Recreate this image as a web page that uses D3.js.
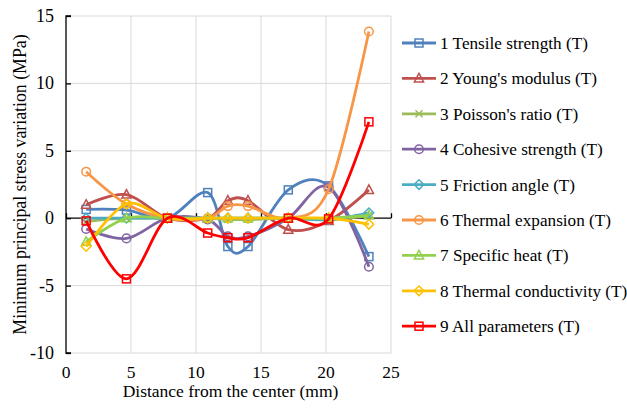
<!DOCTYPE html>
<html>
<head>
<meta charset="utf-8">
<script src="https://cdn.jsdelivr.net/npm/d3@7"></script>
</head>
<body style="margin:0">
<div id="main"></div>
<script>
const width = 627;
const height = 410;

// distance from the center (mm)
const distances = [1.55, 4.65, 7.8, 10.9, 12.45, 14.0, 17.1, 20.2, 23.3];

const names = [
  '1 Tensile strength (T)',
  "2 Young's modulus (T)",
  "3 Poisson's ratio (T)",
  '4 Cohesive strength (T)',
  '5 Friction angle (T)',
  '6 Thermal expansion (T)',
  '7 Specific heat (T)',
  '8 Thermal conductivity (T)',
  '9 All parameters (T)'
];

const tensile     = [0.65, 0.6, 0, 1.9, -2.1, -2.1, 2.1, 2.4, -2.85];
const young       = [1.0, 1.75, 0, 0, 1.3, 1.3, -0.85, -0.2, 2.1];
const poisson     = [-0.25, 0, 0, 0, -0.1, -0.1, 0, -0.1, 0.2];
const cohesive    = [-0.8, -1.5, 0, -0.1, -1.35, -1.35, 0, 2.3, -3.6];
const friction    = [0, 0, 0, 0, 0, 0, 0, -0.1, 0.4];
const expansion   = [3.45, 1.05, 0, 0, 0.9, 0.9, 0, 2.15, 13.85];
const specific    = [-1.75, 0, 0, 0, 0, 0, 0, 0, 0.2];
const conductivity= [-2.1, 1.05, 0, 0, 0, 0, 0, 0, -0.45];
const allParams   = [-0.2, -4.5, 0, -1.1, -1.45, -1.45, 0, -0.05, 7.15];

const seriesValues = [tensile, young, poisson, cohesive, friction, expansion, specific, conductivity, allParams];
const colors = ['#4F81BD', '#C0504D', '#9BBB59', '#8064A2', '#4BACC6', '#F79646', '#92D050', '#FFC000', '#FF0000'];
const markers = ['square', 'triangle', 'cross', 'circle', 'diamond', 'circle', 'triangle', 'diamond', 'square'];

const xTicks = [0, 5, 10, 15, 20, 25];
const yTicks = [-10, -5, 0, 5, 10, 15];

const margin = {left: 66, top: 16, right: 236, bottom: 57};

const svg = d3.select('#main')
    .append('svg')
    .attr('width', width)
    .attr('height', height);

const x = d3.scaleLinear().domain([0, 25]).range([margin.left, width - margin.right]);
const y = d3.scaleLinear().domain([-10, 15]).range([height - margin.bottom, margin.top]);

// gridlines
svg.append('g')
    .selectAll('line')
    .data(yTicks.filter(d => d !== 0))
    .enter().append('line')
    .attr('x1', x(0)).attr('x2', x(25))
    .attr('y1', d => y(d)).attr('y2', d => y(d))
    .attr('stroke', '#d9d9d9').attr('stroke-width', 1);

svg.append('g')
    .selectAll('line')
    .data(xTicks.filter(d => d !== 0))
    .enter().append('line')
    .attr('x1', d => x(d)).attr('x2', d => x(d))
    .attr('y1', y(15)).attr('y2', y(-10))
    .attr('stroke', '#d9d9d9').attr('stroke-width', 1);

// y axis line with inward ticks
const yAxis = svg.append('g')
    .attr('transform', `translate(${x(0)},0)`)
    .call(d3.axisRight(y).tickValues(yTicks).tickSize(5).tickFormat(''));
yAxis.select('.domain').attr('stroke', '#000').attr('stroke-width', 1.3).attr('d', `M5,${y(15)}H0V${y(-10)}H5`);
yAxis.selectAll('.tick line').attr('stroke', '#000').attr('stroke-width', 1.3);

// x axis at zero, ticks upward
const xAxis = svg.append('g')
    .attr('transform', `translate(0,${y(0)})`)
    .call(d3.axisTop(x).tickValues(xTicks).tickSize(5).tickFormat(''));
xAxis.select('.domain').attr('stroke', '#000').attr('stroke-width', 1.3).attr('d', `M${x(0)},0H${x(25)}`);
xAxis.selectAll('.tick line').attr('stroke', '#000').attr('stroke-width', 1.3);

function label(px, py, txt, anchor, size) {
    return svg.append('text')
        .attr('x', px)
        .attr('y', py)
        .attr('text-anchor', anchor)
        .style('font-family', 'Liberation Serif')
        .style('font-size', size + 'px')
        .text(txt);
}

yTicks.forEach(d => label(x(0) - 12, y(d) + 6, d, 'end', 18));
xTicks.forEach(d => label(x(d), y(-10) + 25, d, 'middle', 17.5));
label((x(0) + x(25)) / 2 + 2, y(-10) + 44, 'Distance from the center (mm)', 'middle', 17.5);
label(0, 0, 'Minimum principal stress variation (MPa)', 'middle', 17.8)
    .attr('transform', `translate(26,${(y(15) + y(-10)) / 2}) rotate(-90)`);

const line = d3.line()
    .x(d => x(d[0]))
    .y(d => y(d[1]))
    .curve(d3.curveCardinal.tension(0));

function drawMarker(sel, type, color) {
    if (type === 'square') {
        sel.append('rect').attr('x', -4).attr('y', -4).attr('width', 8).attr('height', 8)
            .attr('fill', 'none').attr('stroke', color).attr('stroke-width', 1.5);
    } else if (type === 'circle') {
        sel.append('circle').attr('r', 4.3)
            .attr('fill', 'none').attr('stroke', color).attr('stroke-width', 1.5);
    } else if (type === 'triangle') {
        sel.append('path').attr('d', 'M0,-5L4.6,3.5L-4.6,3.5Z')
            .attr('fill', 'none').attr('stroke', color).attr('stroke-width', 1.5);
    } else if (type === 'diamond') {
        sel.append('path').attr('d', 'M0,-4.8L4.8,0L0,4.8L-4.8,0Z')
            .attr('fill', 'none').attr('stroke', color).attr('stroke-width', 1.5);
    } else if (type === 'cross') {
        sel.append('path').attr('d', 'M-3.5,-3.5L3.5,3.5M-3.5,3.5L3.5,-3.5')
            .attr('fill', 'none').attr('stroke', color).attr('stroke-width', 1.5);
    }
}

const plot = svg.append('g');

seriesValues.forEach((vals, i) => {
    const pts = distances.map((d, j) => [d, vals[j]]);
    const g = plot.append('g');
    g.append('path')
        .datum(pts)
        .attr('d', line)
        .attr('fill', 'none')
        .attr('stroke', colors[i])
        .attr('stroke-width', 2.8);
    g.selectAll('g')
        .data(pts)
        .enter().append('g')
        .attr('transform', d => `translate(${x(d[0])},${y(d[1])})`)
        .each(function () { drawMarker(d3.select(this), markers[i], colors[i]); });
});

// legend
names.forEach((n, i) => {
    const ly = 43 + i * 35.4;
    svg.append('line')
        .attr('x1', 402).attr('x2', 436)
        .attr('y1', ly).attr('y2', ly)
        .attr('stroke', colors[i]).attr('stroke-width', 2.8);
    drawMarker(svg.append('g').attr('transform', `translate(419,${ly})`), markers[i], colors[i]);
    label(440, ly + 6, n, 'start', 17.2);
});
</script>
</body>
</html>
